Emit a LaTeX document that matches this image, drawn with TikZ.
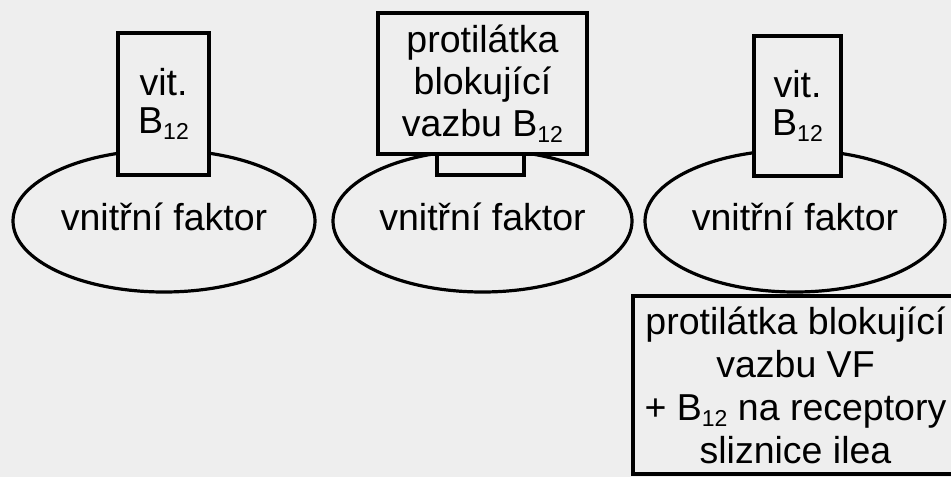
\documentclass[tikz,border=0pt]{standalone}
\usepackage{fontspec}
\setmainfont{Liberation Sans}
\usetikzlibrary{shapes.geometric}
\newcommand\bsub[1]{\raisebox{-6pt}{\fontsize{23}{23}\selectfont #1}}
\definecolor{paper}{HTML}{EEEEEE}
\begin{document}
\begin{tikzpicture}[x=1pt,y=-1pt,
  outl/.style={draw=black, line width=3.2pt, fill=paper},
  oval/.style={outl, ellipse, inner sep=0pt, minimum width=#1, minimum height=142pt, text depth=9pt},
  box/.style={outl, rectangle, inner sep=0pt, align=center},
  every node/.style={font=\fontsize{37.5}{42}\selectfont}]
\clip (0,0) rectangle (951,477);
\fill[paper] (0,0) rectangle (951,477);
% ellipses
\node[oval=302pt] (e1) at (164,221) {vnitřní faktor};
\node[oval=299pt] (e2) at (482.5,221) {vnitřní faktor};
\node[oval=300pt] (e3) at (795,221) {vnitřní faktor};
% left
\node[box, minimum width=91pt, minimum height=142pt] (b1) at (163.5,104) {vit.\\[-4pt]B\bsub{12}};
% middle
\node[box, minimum width=87pt, minimum height=21pt] (s2) at (480.5,164.5) {};
\node[box, minimum width=209pt, minimum height=141pt] (b2) at (482.5,83.5) {protilátka\\blokující\\vazbu B\bsub{12}};
% right
\node[box, minimum width=87pt, minimum height=140pt] (b3) at (797.5,106) {vit.\\[-4pt]B\bsub{12}};
% bottom box
\node[box, minimum width=325pt, minimum height=178pt, font=\fontsize{37.5}{43}\selectfont] (b4) at (795.5,385) {protilátka blokující\\vazbu VF\\+ B\bsub{12} na receptory\\sliznice ilea};
\end{tikzpicture}
\end{document}
